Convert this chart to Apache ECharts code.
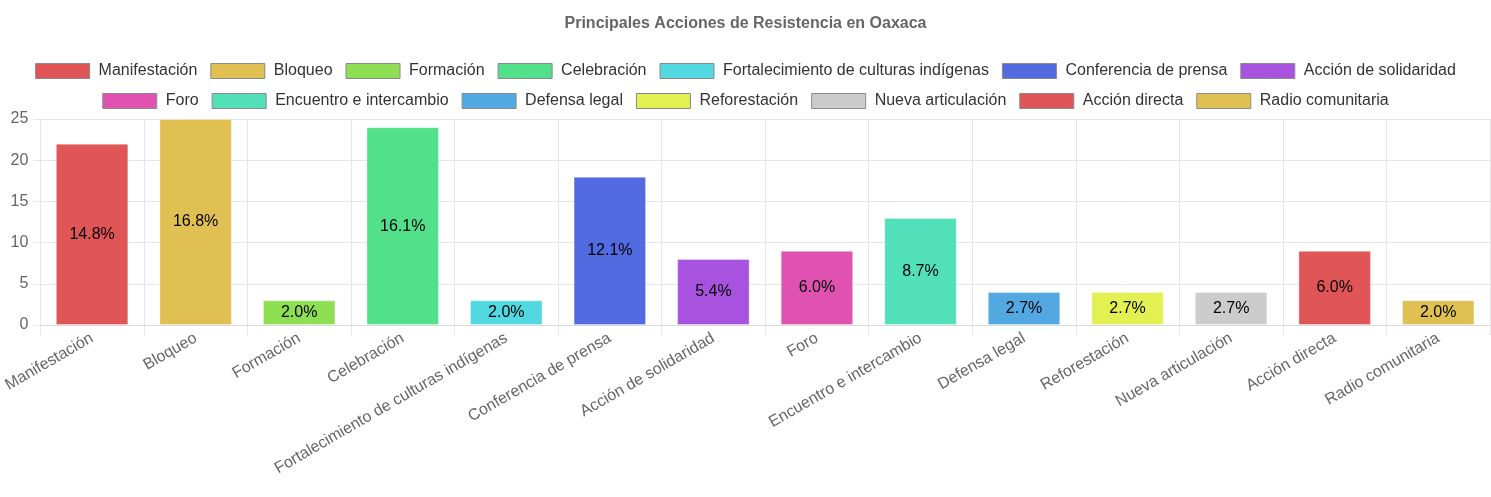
<!DOCTYPE html>
<html>
<head>
<meta charset="utf-8">
<script src="https://cdn.jsdelivr.net/npm/echarts@6/dist/echarts.min.js"></script>
<style>
  html, body { margin: 0; padding: 0; background: #fff; }
  #chart { width: 1491px; height: 497px; }
</style>
</head>
<body>
<div id="chart"></div>
<script>
// datos
const categories = [
  'Manifestación', 'Bloqueo', 'Formación', 'Celebración',
  'Fortalecimiento de culturas indígenas', 'Conferencia de prensa',
  'Acción de solidaridad', 'Foro', 'Encuentro e intercambio',
  'Defensa legal', 'Reforestación', 'Nueva articulación',
  'Acción directa', 'Radio comunitaria'
]
const values = [22, 25, 3, 24, 3, 18, 8, 9, 13, 4, 4, 4, 9, 3]
const colors = [
  '#e05555', '#e0c052', '#8ee052', '#52e08a', '#52d8e0', '#526be0', '#a852e0',
  '#e052b2', '#52e0b8', '#52a8e0', '#e2f052', '#cccccc', '#e05555', '#e0c052'
]
const yTicks = [0, 5, 10, 15, 20, 25]

const total = values.reduce((a, b) => a + b, 0)
const font = "'Liberation Sans', Arial, Helvetica, sans-serif"

const chart = echarts.init(document.getElementById('chart'))

const series = categories.map((name, i) => ({
  name: name,
  type: 'bar',
  stack: 'acciones',
  barWidth: '70%',
  data: values.map((v, j) => (j === i ? v : '-')),
  itemStyle: { color: colors[i], borderColor: 'rgba(255,255,255,0.35)', borderWidth: 1 },
  label: {
    show: true,
    position: 'inside',
    color: '#000',
    fontSize: 16,
    fontFamily: font,
    formatter: p => (p.value / total * 100).toFixed(1) + '%'
  },
  emphasis: { disabled: true }
}))

const legendBase = {
  left: 'center',
  itemWidth: 54,
  itemHeight: 15,
  itemGap: 13,
  icon: 'rect',
  selectedMode: false,
  itemStyle: { borderColor: '#8a8a8a', borderWidth: 1 },
  textStyle: { fontSize: 16, color: '#333', fontFamily: font, padding: [0, 0, 0, 4] }
}

const option = {
  animation: false,
  title: {
    text: 'Principales Acciones de Resistencia en Oaxaca',
    left: 'center',
    top: 11,
    textStyle: { fontSize: 16, fontWeight: 'bold', color: '#666', fontFamily: font }
  },
  legend: [
    Object.assign({}, legendBase, { top: 58, data: categories.slice(0, 7) }),
    Object.assign({}, legendBase, { top: 88, data: categories.slice(7) })
  ],
  grid: { left: 40, right: 1, top: 119, bottom: 172, containLabel: false },
  xAxis: {
    type: 'category',
    data: categories,
    axisLine: { lineStyle: { color: '#d9d9d9' } },
    axisTick: { show: true, length: 10, alignWithLabel: false, lineStyle: { color: '#e5e5e5' } },
    splitLine: { show: true, lineStyle: { color: '#e5e5e5' } },
    axisLabel: {
      interval: 0,
      rotate: 30,
      margin: 12,
      fontSize: 16,
      color: '#666',
      fontFamily: font
    }
  },
  yAxis: {
    type: 'value',
    min: yTicks[0],
    max: yTicks[yTicks.length - 1],
    interval: 5,
    axisLine: { show: true, lineStyle: { color: '#e5e5e5' } },
    axisTick: { show: true, length: 7, lineStyle: { color: '#e5e5e5' } },
    splitLine: { lineStyle: { color: '#e5e5e5' } },
    axisLabel: { fontSize: 16, color: '#666', margin: 12, fontFamily: font }
  },
  series: series
}

chart.setOption(option)
</script>
</body>
</html>
